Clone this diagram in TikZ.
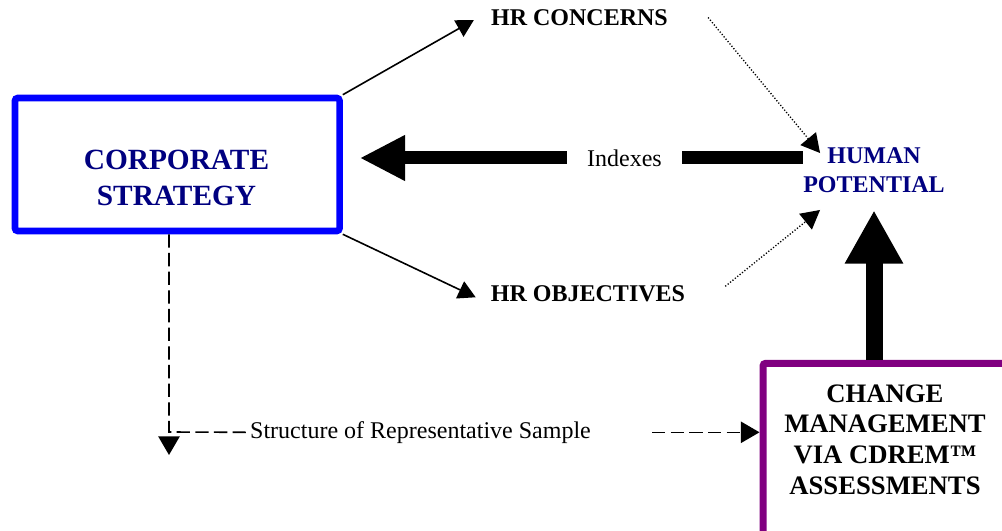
\documentclass[tikz,border=0pt]{standalone}
\usepackage{fontspec}
\setmainfont{Liberation Serif}
\usetikzlibrary{arrows.meta,calc}
\definecolor{stratblue}{RGB}{0,0,255}
\definecolor{titlenavy}{RGB}{0,0,128}
\definecolor{changepurple}{RGB}{128,0,128}

\begin{document}
\begin{tikzpicture}[x=0.75pt,y=-0.75pt,
    stratbox/.style ={draw=stratblue, line width=4.9pt, rounded corners=2pt,
                      minimum width=243.4pt, minimum height=99.75pt, inner sep=0pt},
    changebox/.style ={draw=changepurple, line width=5.25pt, rounded corners=2pt,
                      minimum width=189pt, minimum height=136pt, inner sep=0pt},
    headtext/.style ={font=\bfseries\fontsize{18}{22}\selectfont, inner sep=0pt, align=center},
    plaintext/.style ={font=\fontsize{18}{22}\selectfont, inner sep=0pt},
    thinarrow/.style ={line width=1.2pt, -{Triangle[length=13pt,width=14pt]}},
    dotarrow/.style ={line width=1pt, dash pattern=on 0.9pt off 1.4pt,
                      -{Triangle[length=14pt,width=15pt]}},
    dashline/.style ={line width=1.2pt, dash pattern=on 10pt off 4pt},
    dasharrow/.style ={dashline, -{Triangle[length=14pt,width=16pt]}},
    bigarrow/.style ={line width=9.75pt, -{Triangle[length=34pt,width=32pt]}}]
   \path[use as bounding box, clip] (0,0) rectangle (1002,531);

   % boxes
   \node[stratbox] (corporate) at (177.25,164.5) {};
   \node[headtext,titlenavy,font=\bfseries\fontsize{22}{26.5}\selectfont] (corptext) at (176.5,178) {CORPORATE\\STRATEGY};
   \node[changebox] (change) at (889,454) {};
   \node[headtext,font=\bfseries\fontsize{20}{23}\selectfont] (changetext) at (885,439.5) {CHANGE\\MANAGEMENT\\VIA CDREM™\\ASSESSMENTS};

   % labels
   \node[headtext] (concerns) at (579.5,17.5) {HR CONCERNS};
   \node[headtext] (objectives) at (588,293.3) {HR OBJECTIVES};
   \node[headtext,titlenavy] (human) at (874,170) {HUMAN\\POTENTIAL};
   \node[plaintext,inner xsep=15pt] (indexes) at (624.5,158) {Indexes};
   \node[plaintext,inner xsep=3pt] (sample) at (420.5,432.3) {Structure of Representative Sample};
   \coordinate (bend) at (169,432);
   \coordinate (sampledrop) at (169,455);

   \draw[thinarrow] (corporate.north east) to ($(concerns.west)+(-17,2.5)$);
   \draw[thinarrow] (corporate.south east) to ($(objectives.west)+(-15,4)$);
   \draw[dotarrow] ($(concerns.east)+(40,0)$) to ($(human.north west)+(17,6)$);
   \draw[dotarrow] ($(objectives.east)+(40,-7)$) to ($(human.south west)+(17,17)$);

   \draw[line width=9.75pt] (indexes.east) to (human.west |- indexes.east);
   \draw[bigarrow,shorten >=12.75pt] (indexes.west) to (corporate.east |- indexes.west);
   \draw[line width=12.75pt, -{Triangle[length=40pt,width=41pt]}, shorten >=13pt] (change.north -| human.south) to (human.south);

   \draw[dashline] (corporate.south -| bend) to (bend) to (sample.west);
   \draw[dasharrow] ($(bend)+(0,5)$) to (sampledrop);
   \draw[dasharrow,shorten <=42.75pt] (sample.east) to (change.west |- sample.east);
 \end{tikzpicture}
\end{document}
